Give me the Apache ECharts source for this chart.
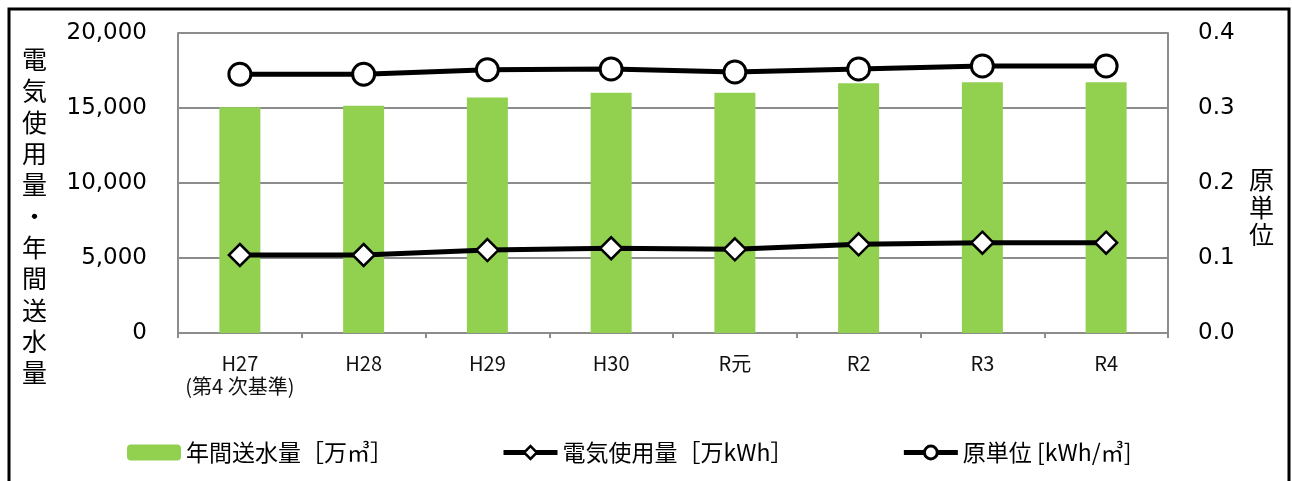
<!DOCTYPE html>
<html>
<head>
<meta charset="utf-8">
<script src="https://cdn.jsdelivr.net/npm/echarts@6/dist/echarts.min.js"></script>
<style>
  html, body { margin: 0; padding: 0; background: #fff; }
  #chart { width: 1292px; height: 481px; }
</style>
</head>
<body>
<div id="chart"></div>
<script>
  // 年度
  var categories = ['H27\n(第4 次基準)', 'H28', 'H29', 'H30', 'R元', 'R2', 'R3', 'R4'];
  // 年間送水量[万㎥]
  var waterData = [15050, 15150, 15700, 16020, 16020, 16650, 16720, 16720];
  // 電気使用量[万kWh]
  var powerData = [5200, 5200, 5530, 5650, 5580, 5910, 6020, 6020];
  // 原単位[kWh/㎥]
  var unitData = [0.345, 0.345, 0.351, 0.352, 0.348, 0.352, 0.356, 0.356];

  var leftTicks = [0, 20000, 5000];
  var rightTicks = [0, 0.4, 0.1];

  var jp = '"Noto Sans CJK JP", sans-serif';
  var num = '"DejaVu Sans", sans-serif';
  var gridColor = '#8c8c8c';

  var myChart = echarts.init(document.getElementById('chart'));
  var chartOption = {
    backgroundColor: '#fff',
    animation: false,
    grid: { left: 178, right: 124, top: 33, bottom: 148, containLabel: false },
    legend: {
      left: 122,
      top: 436,
      itemWidth: 54,
      itemHeight: 16,
      itemGap: 108,
      textStyle: { fontFamily: jp, fontSize: 23, color: '#000' },
      data: [
        { name: '年間送水量［万㎥］' },
        {
          name: '電気使用量［万kWh］',
          lineStyle: { width: 5, color: '#000' },
          itemStyle: { color: '#fff', borderColor: '#000', borderWidth: 2.5 }
        },
        {
          name: '原単位 [kWh/㎥]',
          lineStyle: { width: 5, color: '#000' },
          itemStyle: { color: '#fff', borderColor: '#000', borderWidth: 3 }
        }
      ]
    },
    xAxis: {
      type: 'category',
      data: categories,
      axisLine: { lineStyle: { color: gridColor, width: 2 } },
      axisTick: { show: true, length: 5, lineStyle: { color: gridColor, width: 2 } },
      axisLabel: {
        interval: 0,
        margin: 19,
        fontFamily: jp,
        fontSize: 20,
        lineHeight: 23,
        color: '#111'
      }
    },
    yAxis: [
      {
        type: 'value',
        min: leftTicks[0],
        max: leftTicks[1],
        interval: leftTicks[2],
        axisLine: { show: true, lineStyle: { color: gridColor, width: 2 } },
        axisTick: { show: false },
        splitLine: { lineStyle: { color: gridColor, width: 2 } },
        axisLabel: {
          margin: 31,
          fontFamily: num,
          fontSize: 23,
          color: '#000',
          formatter: function (v) { return v.toLocaleString('en-US'); }
        }
      },
      {
        type: 'value',
        min: rightTicks[0],
        max: rightTicks[1],
        interval: rightTicks[2],
        axisLine: { show: true, lineStyle: { color: gridColor, width: 2 } },
        axisTick: { show: false },
        splitLine: { show: false },
        axisLabel: {
          margin: 30,
          fontFamily: num,
          fontSize: 23,
          color: '#000',
          formatter: function (v) { return v.toFixed(1); }
        }
      }
    ],
    graphic: [
      // 外枠
      {
        type: 'rect',
        shape: { x: 9, y: 9, width: 1280, height: 520 },
        style: { fill: 'none', stroke: '#000', lineWidth: 3 },
        silent: true
      },
      {
        type: 'text',
        left: 22,
        top: 44,
        style: {
          text: '電気使用量・年間送水量'.split('').join('\n'),
          fontFamily: jp,
          fontSize: 25,
          lineHeight: 31.3,
          fill: '#000',
          align: 'center'
        }
      },
      {
        type: 'text',
        left: 1249,
        top: 166,
        style: {
          text: '原単位'.split('').join('\n'),
          fontFamily: jp,
          fontSize: 25,
          lineHeight: 27.5,
          fill: '#000',
          align: 'center'
        }
      }
    ],
    series: [
      {
        name: '年間送水量［万㎥］',
        type: 'bar',
        barWidth: 41,
        itemStyle: { color: '#92d050' },
        data: waterData,
        z: 1
      },
      {
        name: '電気使用量［万kWh］',
        type: 'line',
        yAxisIndex: 0,
        data: powerData,
        symbol: 'diamond',
        symbolSize: 22,
        lineStyle: { color: '#000', width: 5 },
        itemStyle: { color: '#fff', borderColor: '#000', borderWidth: 2.5 },
        z: 3
      },
      {
        name: '原単位 [kWh/㎥]',
        type: 'line',
        yAxisIndex: 1,
        data: unitData,
        symbol: 'circle',
        symbolSize: 22,
        lineStyle: { color: '#000', width: 5 },
        itemStyle: { color: '#fff', borderColor: '#000', borderWidth: 3 },
        z: 3
      }
    ]
  };
  myChart.setOption(chartOption);
</script>
</body>
</html>
